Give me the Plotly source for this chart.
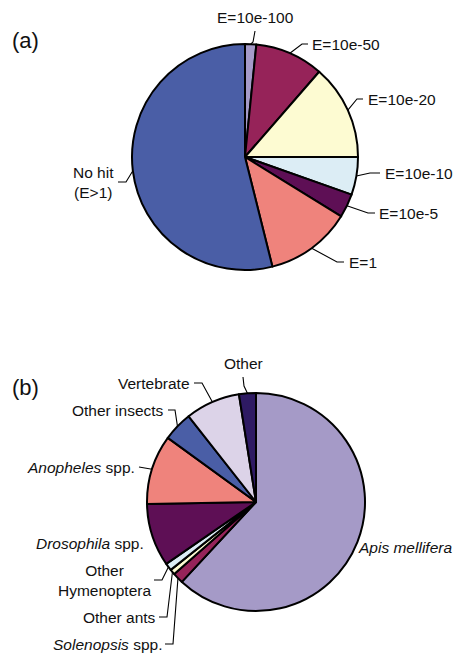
import math
import plotly.graph_objects as go

W, H = 455, 653

# (a) E-value distribution of best BLAST hits, clockwise from 12 o'clock
a_labels = ["E=10e-100", "E=10e-50", "E=10e-20", "E=10e-10", "E=10e-5", "E=1", "No hit<br>(E>1)"]
a_values = [1.6, 9.8, 13.6, 5.4, 3.4, 12.3, 53.9]
a_colors = ["#a59bc9", "#962359", "#fdfbd2", "#dcedf5", "#5e0f55", "#ef837c", "#4a5ea6"]

# (b) taxonomic origin of best hits, clockwise from 12 o'clock
b_labels = ["<i>Apis mellifera</i>", "<i>Solenopsis</i> spp.", "Other ants", "Other<br>Hymenoptera",
            "<i>Drosophila</i> spp.", "<i>Anopheles</i> spp.", "Other insects", "Vertebrate", "Other"]
b_values = [61.9, 1.6, 0.8, 1.1, 9.3, 10.3, 4.4, 8.1, 2.5]
b_colors = ["#a59ac7", "#962359", "#fdfbd2", "#dcedf5", "#5e0f55", "#ef837c", "#4a5ea6", "#dcd3e8", "#2e1a63"]

# pie geometry in pixels: centre x, centre y, radius
PIE_A = (245, 157, 113)
PIE_B = (256, 502, 109)

# label placement: (x, y, xanchor, leader end, leader elbow) in pixels; None = no leader
a_place = [
    (255, 17, "center", (255, 31), (253, 42)),
    (310, 44, "left", (308, 44), (302, 44)),
    (366, 99, "left", (363, 99), (357, 99)),
    (383, 173, "left", (380, 173), (370, 173)),
    (377, 213, "left", (375, 213), (368, 213)),
    (347, 262, "left", (344, 262), (337, 262)),
    (116, 182, "right", (118, 182), (126, 182)),
]
b_place = [
    (454, 547, "right", None, None),
    (164, 644, "right", (165, 644), (173, 644)),
    (158, 617, "right", (159, 617), (167, 617)),
    (153, 580, "right", (154, 580), (162, 580)),
    (146, 543, "right", None, None),
    (137, 467, "right", (139, 467), (139, 467)),
    (166, 410, "right", (168, 410), (175, 410)),
    (192, 383, "right", (194, 383), (202, 383)),
    (243, 363, "center", (243, 377), (244, 386)),
]

FONT = "Liberation Sans, Arial, sans-serif"


def domain(geom):
    cx, cy, r = geom
    return dict(x=[(cx - r) / W, (cx + r) / W], y=[1 - (cy + r) / H, 1 - (cy - r) / H])


def mid_points(values, geom):
    """Point on the rim at the middle angle of each slice (clockwise from top)."""
    cx, cy, r = geom
    total = sum(values)
    pts, acc = [], 0.0
    for v in values:
        th = 2 * math.pi * (acc + v / 2) / total
        pts.append((cx + r * math.sin(th), cy - r * math.cos(th)))
        acc += v
    return pts


fig = go.Figure()

for labels, values, colors, geom in [(a_labels, a_values, a_colors, PIE_A),
                                     (b_labels, b_values, b_colors, PIE_B)]:
    fig.add_trace(go.Pie(
        labels=labels, values=values, sort=False, direction="clockwise", rotation=0,
        marker=dict(colors=colors, line=dict(color="black", width=2)),
        textinfo="none", hoverinfo="label+percent", domain=domain(geom),
        showlegend=False,
    ))

annotations = []
for labels, values, place, geom in [(a_labels, a_values, a_place, PIE_A),
                                    (b_labels, b_values, b_place, PIE_B)]:
    rim = mid_points(values, geom)
    for lab, (x, y, xa, end, elbow), p in zip(labels, place, rim):
        annotations.append(dict(x=x, y=y, xref="x", yref="y", text=lab, showarrow=False,
                                xanchor=xa, yanchor="middle", align="center",
                                font=dict(family=FONT, size=15.5, color="#111")))
        if end is not None:
            fig.add_trace(go.Scatter(x=[end[0], elbow[0], p[0]], y=[end[1], elbow[1], p[1]],
                                     mode="lines", line=dict(color="black", width=1.1),
                                     hoverinfo="skip", showlegend=False))

for tag, y in [("(a)", 40), ("(b)", 387)]:
    annotations.append(dict(x=10, y=y, xref="x", yref="y", text=tag, showarrow=False,
                            xanchor="left", yanchor="middle",
                            font=dict(family=FONT, size=22, color="#111")))

fig.update_layout(
    width=W, height=H, margin=dict(l=0, r=0, t=0, b=0),
    paper_bgcolor="white", plot_bgcolor="rgba(0,0,0,0)",
    xaxis=dict(range=[0, W], visible=False, fixedrange=True),
    yaxis=dict(range=[H, 0], visible=False, fixedrange=True),
    annotations=annotations,
)

fig.write_html("out.html")
